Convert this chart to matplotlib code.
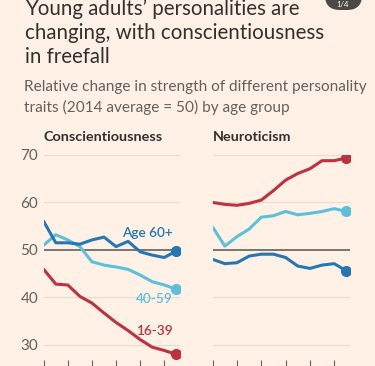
import matplotlib.pyplot as plt
from matplotlib.patches import FancyBboxPatch

# data (2014 average = 50)
years = list(range(2014, 2026))
consc_16_39 = [45.9, 42.8, 42.6, 40.2, 38.8, 36.7, 34.7, 33.0, 31.1, 29.5, 28.8, 28.0]
consc_40_59 = [51.0, 53.2, 52.1, 50.7, 47.5, 46.8, 46.4, 45.9, 44.7, 43.3, 42.6, 41.7]
consc_60 = [56.0, 51.5, 51.5, 51.2, 52.1, 52.7, 50.7, 51.8, 49.6, 48.9, 48.4, 49.8]
neuro_16_39 = [60.0, 59.6, 59.4, 59.8, 60.5, 62.5, 64.7, 66.1, 67.1, 68.8, 68.8, 69.4]
neuro_40_59 = [54.8, 50.8, 52.8, 54.4, 56.9, 57.2, 58.1, 57.4, 57.7, 58.1, 58.7, 58.1]
neuro_60 = [48.0, 47.1, 47.3, 48.7, 49.1, 49.1, 48.4, 46.6, 46.1, 46.8, 47.1, 45.6]
yticks = [30, 40, 50, 60, 70]
xticks = [2014, 2016, 2018, 2020, 2022, 2024]

BG = '#fff1e5'
RED = '#c0303f'
LIGHT = '#5cc0db'
DARK = '#2776b4'
GRID = '#e9dcd0'
TEXT = '#33302e'
GREY = '#66605c'

plt.rcParams['font.family'] = ['Lato', 'DejaVu Sans']

fig = plt.figure(figsize=(3.75, 3.66), dpi=100, facecolor=BG)

fig.text(25/375, 1 - 9/366, "Young adults\u2019 personalities are", fontsize=14.8,
         color=TEXT, va='center', ha='left')
fig.text(25/375, 1 - 33/366, "changing, with conscientiousness", fontsize=14.8,
         color=TEXT, va='center', ha='left')
fig.text(25/375, 1 - 57/366, "in freefall", fontsize=14.8,
         color=TEXT, va='center', ha='left')
fig.text(24/375, 1 - 87/366, "Relative change in strength of different personality",
         fontsize=11.1, color=GREY, va='center', ha='left')
fig.text(24/375, 1 - 107/366, "traits (2014 average = 50) by age group",
         fontsize=11.1, color=GREY, va='center', ha='left')

# page counter button at top right (mostly cut off)
btn = FancyBboxPatch((325/375, 1 - 10/366), 37/375, 30/366,
                     boxstyle="round,pad=0,rounding_size=0.04",
                     transform=fig.transFigure, facecolor='#4d4845',
                     edgecolor='none')
fig.patches.append(btn)
fig.text(343/375, 1 - 4.5/366, "1/4", fontsize=5.5, color='white', ha='center',
         va='center')


def style_axes(ax, show_labels):
    ax.set_facecolor(BG)
    ax.set_ylim(26.8, 70)
    ax.set_xlim(2014, 2025.3)
    ax.set_yticks(yticks)
    ax.set_xticks(xticks)
    ax.set_xticklabels([])
    for s in ax.spines.values():
        s.set_visible(False)
    for y in yticks:
        if y == 50:
            ax.axhline(y, color=GREY, lw=1.2, zorder=1)
        else:
            ax.axhline(y, color=GRID, lw=0.9, zorder=0)
    ax.tick_params(axis='x', length=6, width=0.8, color=GREY, direction='out')
    ax.tick_params(axis='y', length=0, pad=4, labelsize=11, labelcolor=GREY)
    if not show_labels:
        ax.set_yticklabels([])


def draw(ax, series):
    for vals, col in series:
        ax.plot(years, vals, color=col, lw=2.2, zorder=3,
                solid_joinstyle='round', solid_capstyle='round')
        ax.plot(years[-1], vals[-1], 'o', color=col, ms=7, zorder=4)


ax1 = fig.add_axes([43.7/375, 6/366, 136.3/375, 205/366])
style_axes(ax1, True)
draw(ax1, [(consc_16_39, RED), (consc_40_59, LIGHT), (consc_60, DARK)])
ax1.text(0.0, 1.06, "Conscientiousness", transform=ax1.transAxes,
         fontsize=10.4, fontweight='bold', color=TEXT, ha='left', va='bottom')
ax1.text(2024.7, 53.6, "Age 60+", color=DARK, fontsize=9.8, ha='right',
         va='center', fontweight='semibold')
ax1.text(2024.7, 39.6, "40-59", color=LIGHT, fontsize=9.8, ha='right',
         va='center', fontweight='semibold')
ax1.text(2024.7, 33.0, "16-39", color=RED, fontsize=9.8, ha='right',
         va='center', fontweight='semibold')

ax2 = fig.add_axes([212.7/375, 6/366, 137.3/375, 205/366])
style_axes(ax2, False)
draw(ax2, [(neuro_16_39, RED), (neuro_40_59, LIGHT), (neuro_60, DARK)])
ax2.text(0.0, 1.06, "Neuroticism", transform=ax2.transAxes,
         fontsize=10.4, fontweight='bold', color=TEXT, ha='left', va='bottom')

fig.savefig('out.png', dpi=100, facecolor=BG)
